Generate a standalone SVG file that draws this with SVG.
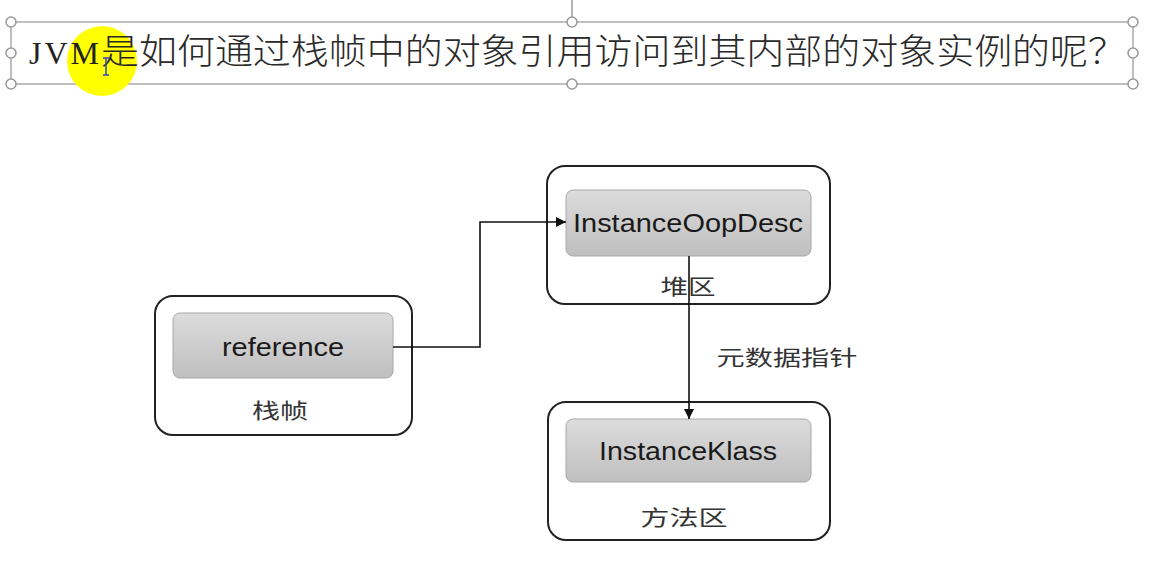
<svg xmlns="http://www.w3.org/2000/svg" width="1160" height="580" viewBox="0 0 1160 580">
<defs>
<linearGradient id="g" x1="0" y1="0" x2="0" y2="1">
<stop offset="0" stop-color="#dcdcdc"/>
<stop offset="1" stop-color="#bfbfbf"/>
</linearGradient>
<marker id="ah" viewBox="0 0 10 10" refX="10" refY="5" markerWidth="10" markerHeight="10" markerUnits="userSpaceOnUse" orient="auto">
<path d="M0,0 L10,5 L0,10 z" fill="#111"/>
</marker>
</defs>
<style>
.outer{fill:#fff;stroke:#222;stroke-width:2}
.inner{fill:url(#g);stroke:#a8a8a8;stroke-width:1}
.en{font-family:"Liberation Sans",Arial,sans-serif;font-size:25px;fill:#1a1a1a;text-anchor:middle}
.zh{font-family:"Noto Sans CJK SC",sans-serif;font-size:21px;fill:#333;text-anchor:middle}
.h{fill:#fff;stroke:#999;stroke-width:1.5}
.conn{fill:none;stroke:#111;stroke-width:1.6}
</style>
<rect width="1160" height="580" fill="#fff"/>
<g id="title">
<line x1="572" y1="0" x2="572" y2="17" stroke="#999" stroke-width="1.5"/>
<rect x="11" y="22" width="1122" height="62" fill="none" stroke="#aaa" stroke-width="1.5"/>
<circle cx="102" cy="61" r="35" fill="#ffff00"/>
<text x="29" y="64" font-family="Liberation Serif,serif" font-size="32" fill="#222" textLength="70" lengthAdjust="spacing">JVM</text>
<text x="101" y="64" font-family="Noto Sans CJK SC,sans-serif" font-size="35" font-weight="300" fill="#2a2a2a" textLength="1025" lengthAdjust="spacingAndGlyphs">是如何通过栈帧中的对象引用访问到其内部的对象实例的呢？</text>
<path d="M103,58 H109 M106,58 V75 M103,75 H109" stroke="#3344cc" stroke-width="1.5" fill="none"/>
<circle class="h" cx="11" cy="22" r="5"/>
<circle class="h" cx="11" cy="53" r="5"/>
<circle class="h" cx="11" cy="84" r="5"/>
<circle class="h" cx="572" cy="22" r="5"/>
<circle class="h" cx="572" cy="84" r="5"/>
<circle class="h" cx="1133" cy="22" r="5"/>
<circle class="h" cx="1133" cy="53" r="5"/>
<circle class="h" cx="1133" cy="84" r="5"/>
</g>
<g id="stackframe">
<rect class="outer" x="155" y="296" width="257" height="139" rx="18"/>
<rect class="inner" x="173" y="313" width="220" height="65" rx="7"/>
<text class="en" x="283" y="356" textLength="122" lengthAdjust="spacingAndGlyphs">reference</text>
<text class="zh" x="280" y="418" textLength="56" lengthAdjust="spacingAndGlyphs">栈帧</text>
</g>
<g id="heap">
<rect class="outer" x="547" y="166" width="283" height="138" rx="18"/>
<rect class="inner" x="566" y="190" width="245" height="66" rx="7"/>
<text class="en" x="688" y="232" textLength="230" lengthAdjust="spacingAndGlyphs">InstanceOopDesc</text>
<text class="zh" x="688" y="294" textLength="55" lengthAdjust="spacingAndGlyphs">堆区</text>
</g>
<g id="methodarea">
<rect class="outer" x="548" y="402" width="282" height="138" rx="18"/>
<rect class="inner" x="566" y="419" width="245" height="63" rx="7"/>
<text class="en" x="688" y="460" textLength="178" lengthAdjust="spacingAndGlyphs">InstanceKlass</text>
<text class="zh" x="684" y="525" textLength="87" lengthAdjust="spacingAndGlyphs">方法区</text>
</g>
<g id="connectors">
<path class="conn" d="M393,347 H480 V222 H566" marker-end="url(#ah)"/>
<path class="conn" d="M689,256 V419" marker-end="url(#ah)"/>
<text class="zh" x="787" y="365" textLength="141" lengthAdjust="spacingAndGlyphs">元数据指针</text>
</g>
</svg>
